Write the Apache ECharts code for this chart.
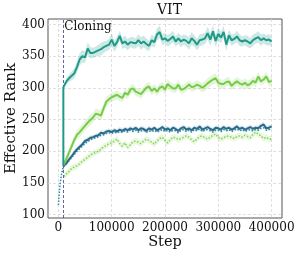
<!DOCTYPE html>
<html>
<head>
<meta charset="utf-8">
<script src="https://cdn.jsdelivr.net/npm/echarts@6/dist/echarts.min.js"></script>
<style>html,body{margin:0;padding:0;background:#fff}#c{width:299px;height:255px}</style>
</head>
<body>
<div id="c"></div>
<script>
// ---- data ----
const title = 'VIT';
const xName = 'Step';
const yName = 'Effective Rank';
const xTicks = [0, 100000, 200000, 300000, 400000];
const yTicks = [100, 150, 200, 250, 300, 350, 400];
const cloningStep = 9300;

// sampling positions after cloning (every 5000 steps from 10000 to 400000)
const steps = [];
for (let s = 10000; s <= 400000; s += 5000) steps.push(s);

// before cloning (shared run)
const preSteps = [0, 2000, 4000, 6000, 8000, 9300];
const preValues = [115, 138, 153, 164, 171, 177];

const tealSolid = [301,310,315,319,323,333,345,350,348,362,355,355,357,359,361,364,366,368,376,366,
  372,382,370,373,368,372,371,370,375,370,373,369,366,375,372,384,388,376,378,374,
  377,381,373,378,373,376,374,370,378,374,368,375,376,378,386,376,389,374,385,379,
  388,368,383,375,377,381,375,373,375,373,370,375,378,380,375,378,375,376,373];
const tealSpread = [4,5,6,7,8,9,10,10,9,10,9,8,8,9,10,9,8,9,10,9,
  9,8,9,10,9,8,9,8,9,10,9,9,8,9,9,10,10,9,8,9,
  9,9,8,9,9,8,9,10,10,9,9,10,9,9,10,10,10,9,10,9,
  10,10,9,9,8,9,9,8,8,9,8,9,8,9,9,8,8,9,8];

const greenSolid = [178,188,198,208,218,226,230,235,240,245,249,253,259,258,256,268,278,282,285,287,
  289,286,284,292,289,297,299,294,292,290,295,300,302,295,299,294,300,302,297,306,
  302,299,299,305,297,298,301,305,301,302,305,303,300,303,307,310,313,315,308,306,
  306,309,310,303,307,310,307,305,308,304,306,311,308,318,310,313,318,309,311];
const greenSpread = [4,5,6,6,7,7,8,8,8,8,8,8,8,8,8,8,8,7,7,7,
  7,7,7,7,7,7,7,7,7,7,7,7,7,7,7,7,7,7,7,7,
  7,7,7,7,7,7,7,7,7,7,7,7,7,8,8,8,8,8,8,7,
  7,7,7,7,7,7,7,7,7,7,7,7,7,7,7,7,7,7,7];

const blueSolid = [177,181,187,192,198,203,207,211,216,218,221,222,224,225,229,228,231,232,230,233,
  231,234,232,235,233,236,234,237,233,236,235,232,236,234,237,233,235,238,234,236,
  233,237,235,232,236,238,234,236,233,237,235,239,234,236,238,235,233,237,236,234,
  238,235,237,234,236,239,235,237,234,236,238,235,237,236,240,242,236,237,239];
const blueSpread = 4;

const tealDotted = [176,180,185,190,195,200,204,208,212,215,218,220,221,223,225,226,228,229,228,230,
  229,231,230,232,230,233,231,233,230,232,233,230,232,231,233,230,232,234,231,233,
  230,233,232,229,233,234,231,233,230,234,232,235,231,233,234,232,230,233,233,231,
  234,232,234,231,233,235,232,234,231,233,234,232,234,233,236,237,233,234,235];

const greenDotted = [160,164,168,173,175,177,180,184,187,190,194,196,198,200,203,207,209,212,213,216,
  219,212,208,213,206,210,215,216,214,212,216,219,217,214,211,216,220,222,217,213,
  218,222,221,218,220,222,224,222,218,215,219,223,224,221,219,222,225,227,222,219,
  221,224,223,222,220,223,224,222,225,223,221,226,230,227,224,220,222,219,219];
const greenDottedSpread = 5;

// ---- colours ----
const cTeal = '#1f9a88';
const cGreen = '#76cc48';
const cBlue = '#2a6a8d';
const cTealDot = '#2f8f98';
const cGreenDot = '#8ad65c';

function pairs(xs, ys) { return xs.map((x, i) => [x, ys[i]]); }

function band(xs, mid, spread, color, opacity) {
  const data = xs.map((x, i) => {
    const s = Array.isArray(spread) ? spread[i] : spread;
    return [x, mid[i] - s, mid[i] + s];
  });
  return {
    type: 'custom', silent: true, z: 1, clip: true,
    data: data, encode: { x: 0, y: [1, 2] },
    renderItem: function (params, api) {
      if (params.dataIndex !== 0) return null;
      const up = data.map(d => api.coord([d[0], d[2]]));
      const lo = data.map(d => api.coord([d[0], d[1]])).reverse();
      return { type: 'polygon', shape: { points: up.concat(lo) },
        style: { fill: color, opacity: opacity } };
    }
  };
}

const font = 'DejaVu Serif';
const chart = echarts.init(document.getElementById('c'), null, { renderer: 'canvas' });

const series = [
  band(steps, tealSolid, tealSpread, cTeal, 0.22),
  band(steps, greenSolid, greenSpread, cGreen, 0.2),
  band(steps, blueSolid, blueSpread, cBlue, 0.15),
  band(steps, greenDotted, greenDottedSpread, cGreenDot, 0.18),
  { type: 'line', data: pairs(preSteps, preValues), symbol: 'none', z: 3,
    lineStyle: { color: cTealDot, width: 1.5, type: 'dotted' } },
  { type: 'line', data: pairs(steps, greenDotted), symbol: 'none', z: 3,
    lineStyle: { color: cGreenDot, width: 1.6, type: 'dotted' } },
  { type: 'line', data: pairs(steps, tealDotted), symbol: 'none', z: 3,
    lineStyle: { color: cTealDot, width: 1.6, type: 'dotted' } },
  { type: 'line', data: pairs(steps, blueSolid), symbol: 'none', z: 4,
    lineStyle: { color: cBlue, width: 2 } },
  { type: 'line', data: pairs(steps, greenSolid), symbol: 'none', z: 4,
    lineStyle: { color: cGreen, width: 2 } },
  { type: 'line', data: [[cloningStep, preValues[preValues.length - 1]], [cloningStep, tealSolid[0]]].concat(pairs(steps, tealSolid)),
    symbol: 'none', z: 5,
    lineStyle: { color: cTeal, width: 2 },
    markLine: {
      silent: true, symbol: 'none',
      lineStyle: { color: '#3b3b8c', type: [3, 2], width: 0.8 },
      label: { show: false },
      data: [{ xAxis: cloningStep }]
    },
    markPoint: {
      symbol: 'circle', symbolSize: 0,
      label: { show: true, position: 'right', distance: 1, formatter: 'Cloning',
        fontFamily: font, fontSize: 12, color: '#111' },
      data: [{ coord: [cloningStep, 396] }]
    }
  }
];

chart.setOption({
  animation: false,
  backgroundColor: '#fff',
  title: {
    text: title, left: 152, top: -2,
    textStyle: { fontFamily: font, fontSize: 14, fontWeight: 'normal', color: '#111' }
  },
  grid: { left: 48, right: 17, top: 19, bottom: 37, outerBoundsMode: 'none', containLabel: false,
    show: true, borderColor: '#555', borderWidth: 1, backgroundColor: 'transparent' },
  xAxis: {
    type: 'value', min: -19500, max: 419500,
    name: xName, nameLocation: 'middle', nameGap: 17, nameMoveOverlap: false,
    nameTextStyle: { fontFamily: font, fontSize: 14.5, color: '#111' },
    axisLine: { show: false },
    axisTick: { show: false, customValues: xTicks },
    axisLabel: { customValues: xTicks, formatter: v => String(v), fontFamily: font, fontSize: 12, color: '#111', margin: 4 },
    splitLine: { show: true, lineStyle: { color: '#d8d8d8', type: [3, 2], width: 0.8 } }
  },
  yAxis: {
    type: 'value', min: 94.5, max: 408.5,
    name: yName, nameLocation: 'middle', nameGap: 29, nameMoveOverlap: false,
    nameTextStyle: { fontFamily: font, fontSize: 15, color: '#111' },
    axisLine: { show: false },
    axisTick: { show: false, customValues: yTicks },
    axisLabel: { customValues: yTicks, formatter: v => String(v), fontFamily: font, fontSize: 12, color: '#111', margin: 3 },
    splitLine: { show: true, lineStyle: { color: '#d8d8d8', type: [3, 2], width: 0.8 } }
  },
  series: series
});
</script>
</body>
</html>
